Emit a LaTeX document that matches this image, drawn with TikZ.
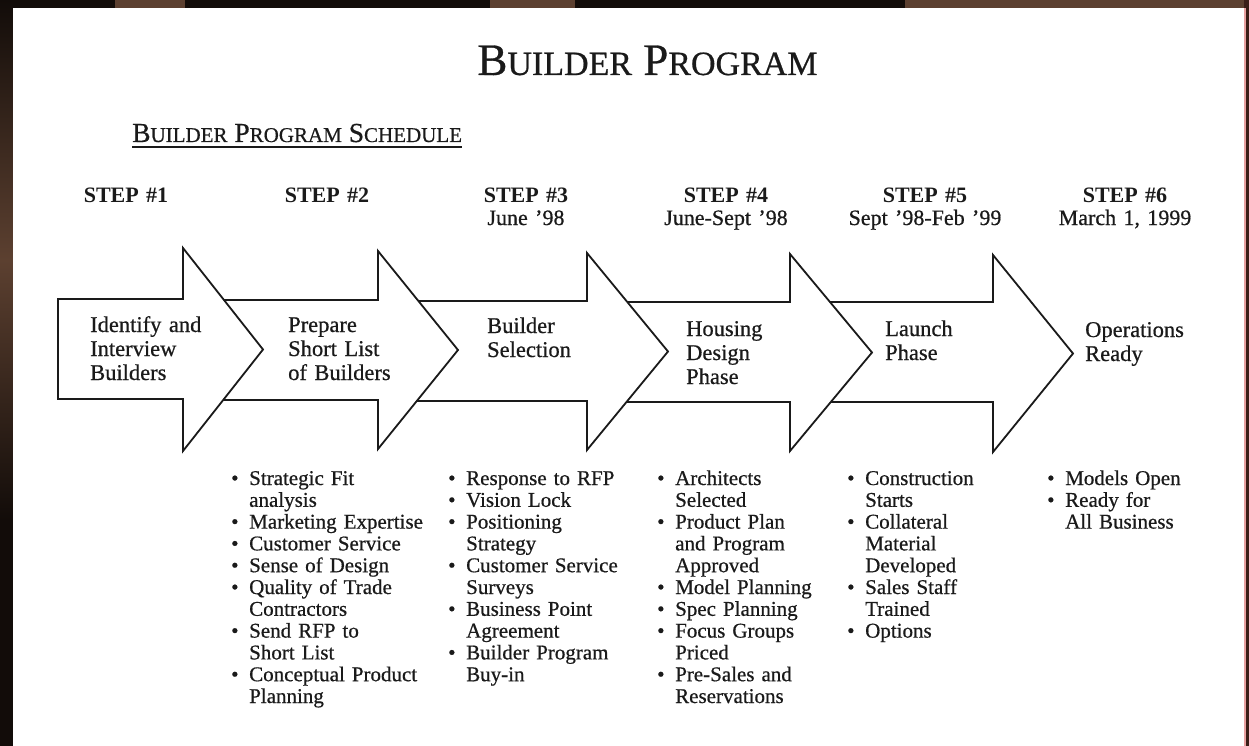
\documentclass[tikz,border=0pt]{standalone}
\usepackage{fontspec}
\setmainfont{Liberation Serif}[UprightFeatures={FakeBold=0.6}]

% one stage arrow: body left, head base x, tip x, body top, body bottom, head top, head bottom
\newcommand\stagearrow[7]{%
  \draw[arrowline] (#1,#4) -- (#2,#4) -- (#2,#6) -- (#3,{(#6+#7)/2})
    -- (#2,#7) -- (#2,#5) -- (#1,#5) -- cycle;}
% capital followed by reduced capitals (small-caps look)
\newcommand\bigsmall[4]{{\fontsize{#1}{#1}\selectfont #3\fontsize{#2}{#2}\selectfont #4}}
\newcommand\bul{\makebox[18pt][l]{\textbullet}}
\newcommand\ind{\hspace*{18pt}}

\definecolor{frame}{HTML}{120C09}
\definecolor{framebrown}{HTML}{5C4030}
\definecolor{edgepink}{HTML}{E8A0A0}
\definecolor{edgedark}{HTML}{3A1E18}
\definecolor{ink}{HTML}{1A1A1A}

\begin{document}
\begin{tikzpicture}[x=1pt,y=-1pt,
  arrowline/.style={draw=ink, line width=1.8pt, fill=white, line join=miter},
  steplabel/.style={font=\fontsize{22}{23}\selectfont, text=ink,
    text width=170pt, align=center, anchor=base, inner sep=0pt},
  phasetext/.style={font=\fontsize{22.5}{24}\selectfont, text=ink,
    text width=150pt, align=left, anchor=base west, inner sep=0pt},
  bullets/.style={font=\fontsize{21}{21.8}\selectfont, text=ink,
    text width=200pt, align=left, anchor=base west, inner sep=0pt},
]
\useasboundingbox (0,0) rectangle (1249,746);

% scanned page and its dark surround
\fill[frame] (0,0) rectangle (1249,746);
\shade[top color=frame, bottom color=frame, middle color=framebrown] (0,0) rectangle (13,520);
\fill[framebrown] (115,0) rectangle (185,8);
\fill[framebrown] (490,0) rectangle (575,8);
\fill[framebrown] (905,0) rectangle (1249,8);
\fill[edgedark] (1244,0) rectangle (1249,746);
\fill[white] (13,8) rectangle (1244,746);
\fill[edgepink] (1243.5,8) rectangle (1245.5,746);

% headings
\node[anchor=base, inner sep=0pt, text=ink] (title) at (647.5,75)
  {\bigsmall{45}{34}{B}{UILDER}\fontsize{45}{45}\selectfont\ \bigsmall{45}{34}{P}{ROGRAM}};
\node[anchor=base west, inner sep=0pt, text=ink] (sched) at (132,142)
  {\bigsmall{27.5}{21}{B}{UILDER}\fontsize{27.5}{27.5}\selectfont\ \bigsmall{27.5}{21}{P}{ROGRAM}\fontsize{27.5}{27.5}\selectfont\ \bigsmall{27.5}{21}{S}{CHEDULE}};
\draw[ink, line width=1.8pt] ([yshift=-5pt]sched.base west) -- ([yshift=-5pt]sched.base east);

% step labels
\node[steplabel] (s1) at (126,202) {\textbf{STEP \#1}};
\node[steplabel] (s2) at (327,202) {\textbf{STEP \#2}};
\node[steplabel] (s3) at (526,202) {\textbf{STEP \#3}\\June '98};
\node[steplabel] (s4) at (726,202) {\textbf{STEP \#4}\\June-Sept '98};
\node[steplabel] (s5) at (925,202) {\textbf{STEP \#5}\\Sept '98-Feb '99};
\node[steplabel] (s6) at (1125,202) {\textbf{STEP \#6}\\March 1, 1999};

% stage arrows, last one first so each earlier arrow overlaps the next
\stagearrow{790}{993}{1073}{302}{402}{255}{452}
\stagearrow{587}{790}{872}{302}{402}{254}{451}
\stagearrow{378}{587}{668}{301}{401}{253}{450}
\stagearrow{183}{378}{458}{300}{400}{251}{449}
\stagearrow{58}{183}{263}{299}{399}{248}{451}

% phase names
\node[phasetext] (p1) at (90,332) {Identify and\\Interview\\Builders};
\node[phasetext] (p2) at (288,332) {Prepare\\Short List\\of Builders};
\node[phasetext] (p3) at (487,333) {Builder\\Selection};
\node[phasetext] (p4) at (686,336) {Housing\\Design\\Phase};
\node[phasetext] (p5) at (885,336) {Launch\\Phase};
\node[phasetext] (p6) at (1085,337) {Operations\\Ready};

% activity lists
\node[bullets] (l2) at (231,485) {\bul Strategic Fit\\\ind analysis\\\bul Marketing Expertise\\\bul Customer Service\\\bul Sense of Design\\\bul Quality of Trade\\\ind Contractors\\\bul Send RFP to\\\ind Short List\\\bul Conceptual Product\\\ind Planning};
\node[bullets] (l3) at (448,485) {\bul Response to RFP\\\bul Vision Lock\\\bul Positioning\\\ind Strategy\\\bul Customer Service\\\ind Surveys\\\bul Business Point\\\ind Agreement\\\bul Builder Program\\\ind Buy-in};
\node[bullets] (l4) at (657,485) {\bul Architects\\\ind Selected\\\bul Product Plan\\\ind and Program\\\ind Approved\\\bul Model Planning\\\bul Spec Planning\\\bul Focus Groups\\\ind Priced\\\bul Pre-Sales and\\\ind Reservations};
\node[bullets] (l5) at (847,485) {\bul Construction\\\ind Starts\\\bul Collateral\\\ind Material\\\ind Developed\\\bul Sales Staff\\\ind Trained\\\bul Options};
\node[bullets] (l6) at (1047,485) {\bul Models Open\\\bul Ready for\\\ind All Business};
\end{tikzpicture}
\end{document}
